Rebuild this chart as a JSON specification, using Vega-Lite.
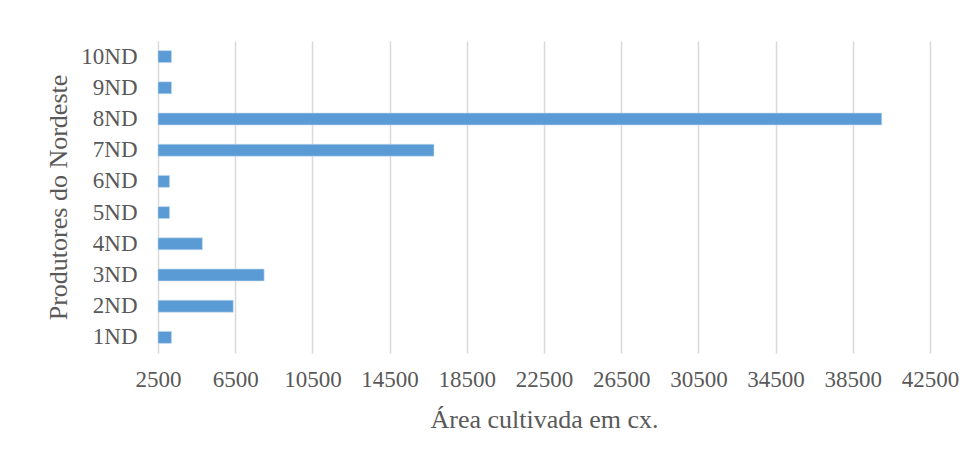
{
  "$schema": "https://vega.github.io/schema/vega-lite/v6.json",
  "width": 772,
  "height": 312,
  "autosize": {"type": "none"},
  "padding": {"left": 158, "top": 41, "right": 47, "bottom": 103},
  "background": "white",
  "data": {
    "values": [
      {"produtor": "1ND", "area": 3200},
      {"produtor": "2ND", "area": 6400},
      {"produtor": "3ND", "area": 8000},
      {"produtor": "4ND", "area": 4800},
      {"produtor": "5ND", "area": 3100},
      {"produtor": "6ND", "area": 3100},
      {"produtor": "7ND", "area": 16800},
      {"produtor": "8ND", "area": 40000},
      {"produtor": "9ND", "area": 3200},
      {"produtor": "10ND", "area": 3200}
    ]
  },
  "mark": {"type": "bar", "color": "#5B9BD5", "size": 12, "stroke": "#c9ddf0", "strokeWidth": 0.6},
  "encoding": {
    "y": {
      "field": "produtor",
      "type": "nominal",
      "sort": ["10ND", "9ND", "8ND", "7ND", "6ND", "5ND", "4ND", "3ND", "2ND", "1ND"],
      "title": "Produtores do Nordeste",
      "axis": {
        "domain": false,
        "ticks": false,
        "grid": false,
        "labelFont": "Liberation Serif",
        "labelFontSize": 23,
        "labelColor": "#595959",
        "labelPadding": 21,
        "titleFont": "Liberation Serif",
        "titleFontSize": 26,
        "titleFontWeight": "normal",
        "titleColor": "#595959",
        "titlePadding": 9
      }
    },
    "x": {
      "field": "area",
      "type": "quantitative",
      "title": "Área cultivada em cx.",
      "scale": {"domain": [2500, 42500], "zero": false, "nice": false},
      "axis": {
        "values": [2500, 6500, 10500, 14500, 18500, 22500, 26500, 30500, 34500, 38500, 42500],
        "format": "d",
        "labelOverlap": false,
        "labelFlush": false,
        "domain": false,
        "ticks": false,
        "grid": true,
        "gridColor": "#d9d9d9",
        "gridWidth": 1.5,
        "labelFont": "Liberation Serif",
        "labelFontSize": 23,
        "labelColor": "#595959",
        "labelPadding": 15,
        "titleFont": "Liberation Serif",
        "titleFontSize": 26,
        "titleFontWeight": "normal",
        "titleColor": "#595959",
        "titlePadding": 15
      }
    },
    "x2": {"datum": 2500}
  },
  "config": {"view": {"stroke": null}}
}
